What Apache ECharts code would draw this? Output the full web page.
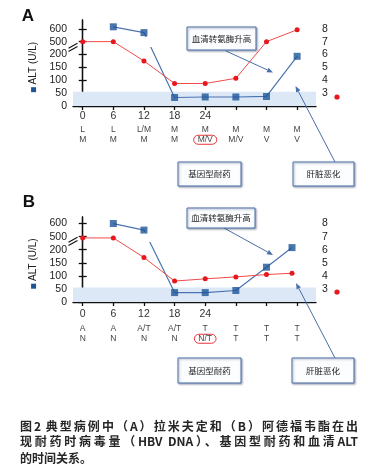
<!DOCTYPE html>
<html><head><meta charset="utf-8">
<script src="https://cdn.jsdelivr.net/npm/echarts@6/dist/echarts.min.js"></script>
<style>
html,body{margin:0;padding:0;background:#fff;}
#wrap{position:relative;width:370px;height:472px;overflow:hidden;}
#chart{position:absolute;left:0;top:0;width:370px;height:472px;}
.cap{position:absolute;left:20px;width:338px;font-family:"Noto Sans CJK SC",sans-serif;font-size:12px;font-weight:bold;color:#262626;line-height:16px;white-space:nowrap;}
.j{text-align:justify;text-align-last:justify;}
</style></head>
<body><div id="wrap"><div id="chart"></div>
<div class="cap j" style="top:418px">图2 典型病例中（A）拉米夫定和（B）阿德福韦酯在出</div>
<div class="cap j" style="top:433px">现耐药时病毒量（HBV DNA）、基因型耐药和血清ALT</div>
<div class="cap" style="top:450px">的时间关系。</div>
</div>
<script>
// ---- data ----
const times = [0, 6, 12, 18, 24, 30, 36, 42];
const timeLabels = [0, 6, 12, 18, 24];
const altTicks = [0, 50, 100, 150, 200, 500, 600];
const dnaTicks = [3, 4, 5, 6, 7, 8];
const drugA = ['L', 'L', 'L/M', 'M', 'M', 'M', 'M', 'M'];
const mutA = ['M', 'M', 'M', 'M', 'M/V', 'M/V', 'V', 'V'];
const drugB = ['A', 'A', 'A/T', 'A/T', 'T', 'T', 'T', 'T'];
const mutB = ['N', 'N', 'N', 'N', 'N/T', 'T', 'T', 'T'];
const circledIndex = 4;
const altTimesA = [6, 12, 18, 24, 30, 36, 42];
const altA = [615, 570, 33, 35, 35, 37, 193];
const dnaTimesA = [0, 6, 12, 18, 24, 30, 36, 42];
const dnaA = [7.0, 7.0, 5.5, 3.75, 3.75, 4.15, 7.0, 7.92];
const altTimesB = [6, 12, 18, 24, 30, 36, 41];
const altB = [600, 550, 36, 36, 44, 133, 208];
const dnaTimesB = [0, 6, 12, 18, 24, 30, 36, 41];
const dnaB = [6.9, 6.9, 5.4, 3.6, 3.77, 3.92, 4.1, 4.2];
const normalALT = 55;

// broken ALT scale: linear up to the break, compressed above it
function altScale(v) { return v <= 250 ? v : 250 + (v - 500) * 0.5; }
const altTickPos = altTicks.map(altScale);
function fmtAlt(v) { const i = altTickPos.indexOf(v); return i >= 0 ? String(altTicks[i]) : ''; }

const FONT = 'Liberation Sans';
const BLUE = '#1d5597', BLUE_LINE = '#4a73b3', RED = '#e8161d', RED_LINE = '#f04a4a';
const XMIN = -1.9, XMAX = 45.7;
const TMAX_A = 334, TMAX_B = 325;

function zip(xs, ys, f) { return xs.map((x, i) => [x, f ? f(ys[i]) : ys[i]]); }

function mainX(grid, margin) {
  return {
    type: 'value', gridIndex: grid, min: XMIN, max: XMAX, position: 'bottom',
    axisLine: { show: true, onZero: false, lineStyle: { color: '#111', width: 1.3 } },
    axisTick: { show: true, length: 4, customValues: times, lineStyle: { color: '#111', width: 1.3 } },
    axisLabel: { customValues: timeLabels, margin: margin, fontSize: 10.5, color: '#333', fontFamily: FONT },
    splitLine: { show: false }
  };
}
function rowX(grid, offset, drug, mut) {
  return {
    type: 'value', gridIndex: grid, min: XMIN, max: XMAX, position: 'bottom', offset: offset,
    axisLine: { show: false }, axisTick: { show: false }, splitLine: { show: false },
    axisLabel: {
      customValues: times, margin: 0, fontSize: 8.5, lineHeight: 10.5, color: '#444', fontFamily: FONT,
      formatter: function (v) {
        const i = times.indexOf(v);
        if (i < 0) return '';
        return drug[i] + '\n' + (i === circledIndex ? '{c|' + mut[i] + '}' : mut[i]);
      },
      rich: { c: { fontSize: 8.5, lineHeight: 10.5, color: '#444', fontFamily: FONT, borderColor: '#e8333a', borderWidth: 1, borderRadius: 6, padding: [0, 4, 0, 4] } }
    }
  };
}
function leftY(grid, tmax) {
  return {
    type: 'value', gridIndex: grid, min: 0, max: tmax, position: 'left',
    axisLine: { show: true, lineStyle: { color: '#111', width: 1.3 } },
    axisTick: { show: true, length: 4, customValues: altTickPos, lineStyle: { color: '#111', width: 1.3 } },
    axisLabel: { customValues: altTickPos, formatter: fmtAlt, margin: 6, fontSize: 10.5, color: '#222', fontFamily: FONT },
    splitLine: { show: false },
    name: '{sq|} ALT (U/L)', nameLocation: 'middle', nameGap: 25, nameRotate: 90,
    nameTextStyle: { fontSize: 10, color: '#222', fontFamily: FONT, padding: [0, 8, 0, 0],
      rich: { sq: { width: 5, height: 5, backgroundColor: BLUE } } }
  };
}
function rightY(grid, tmax) {
  return {
    type: 'value', gridIndex: grid, min: 2, max: 2 + tmax / 50, position: 'right',
    axisLine: { show: true, lineStyle: { color: '#111', width: 1.3 } },
    axisTick: { show: true, length: 4, customValues: dnaTicks, lineStyle: { color: '#111', width: 1.3 } },
    axisLabel: { customValues: dnaTicks, margin: 6, fontSize: 10.5, color: '#222', fontFamily: FONT },
    splitLine: { show: false }
  };
}
function panelSeries(xi, yl, yr, altT, alt, dnaT, dna) {
  return [
    { type: 'line', xAxisIndex: xi, yAxisIndex: yl, data: zip(altT, alt, altScale), showSymbol: false,
      lineStyle: { width: 1.2 }, silent: true, z: 3,
      markArea: { silent: true, itemStyle: { color: '#dce8f6' }, data: [[{ yAxis: 0 }, { yAxis: normalALT }]] } },
    { type: 'scatter', xAxisIndex: xi, yAxisIndex: yl, data: zip(altT, alt, altScale), symbol: 'rect', symbolSize: 7,
      itemStyle: { color: BLUE }, silent: true, z: 5 },
    { type: 'line', xAxisIndex: xi, yAxisIndex: yr, data: zip(dnaT, dna), symbol: 'circle', symbolSize: 5, showSymbol: true,
      lineStyle: { color: RED_LINE, width: 1 }, itemStyle: { color: RED, borderWidth: 0 }, silent: true, z: 4 }
  ];
}

const gapPieces = [
  { max: 229, color: BLUE_LINE },
  { min: 229, max: 268, color: 'rgba(255,255,255,0)' },
  { min: 268, color: BLUE_LINE }
];

const chart = echarts.init(document.getElementById('chart'), null, { renderer: 'canvas' });
const option = {
  animation: false,
  backgroundColor: 'transparent',
  grid: [
    { left: 73, top: 20, width: 243, height: 86 },
    { left: 73, top: 217, width: 243, height: 85 }
  ],
  xAxis: [mainX(0, 5), rowX(0, 18, drugA, mutA), mainX(1, 7), rowX(1, 21, drugB, mutB)],
  yAxis: [leftY(0, TMAX_A), rightY(0, TMAX_A), leftY(1, TMAX_B), rightY(1, TMAX_B)],
  visualMap: [
    { type: 'piecewise', show: false, seriesIndex: 0, dimension: 1, pieces: gapPieces },
    { type: 'piecewise', show: false, seriesIndex: 3, dimension: 1, pieces: gapPieces }
  ],
  series: [].concat(
    panelSeries(0, 0, 1, altTimesA, altA, dnaTimesA, dnaA),
    panelSeries(2, 2, 3, altTimesB, altB, dnaTimesB, dnaB)
  )
};
chart.setOption(option);

// ---- annotations ----
const ARROW = '#4a6ea8';
function box(x, y, w, h, text) {
  return [
    { type: 'rect', shape: { x: x, y: y, width: w, height: h }, z: 20,
      style: { fill: '#fbfdff', stroke: '#4f70a6', lineWidth: 1, shadowBlur: 2, shadowOffsetX: 1, shadowOffsetY: 1, shadowColor: 'rgba(40,60,100,0.45)' } },
    { type: 'text', x: x + w / 2, y: y + h / 2, z: 21,
      style: { text: text, fill: '#222', font: '8.5px "Noto Sans CJK SC"', align: 'center', verticalAlign: 'middle' } }
  ];
}
function arrow(x1, y1, x2, y2) {
  const a = Math.atan2(y2 - y1, x2 - x1), L = 6, W = 2.4;
  const bx = x2 - L * Math.cos(a), by = y2 - L * Math.sin(a);
  const px = -Math.sin(a) * W, py = Math.cos(a) * W;
  return [
    { type: 'line', z: 19, shape: { x1: x1, y1: y1, x2: bx, y2: by }, style: { stroke: ARROW, lineWidth: 1 } },
    { type: 'polygon', z: 19, shape: { points: [[x2, y2], [bx + px, by + py], [bx - px, by - py]] }, style: { fill: ARROW } }
  ];
}
function breakMark(p) {
  const x = p[0], y = p[1];
  return [
    { type: 'polygon', z: 30, shape: { points: [[x - 4, y + 1.8], [x + 4, y - 2.6], [x + 4, y + 0.6], [x - 4, y + 5]] }, style: { fill: '#fff' } },
    { type: 'line', z: 31, shape: { x1: x - 4.5, y1: y + 2, x2: x + 4.5, y2: y - 3 }, style: { stroke: '#111', lineWidth: 1.1 } },
    { type: 'line', z: 31, shape: { x1: x - 4.5, y1: y + 5.2, x2: x + 4.5, y2: y + 0.2 }, style: { stroke: '#111', lineWidth: 1.1 } }
  ];
}
const brA = chart.convertToPixel({ xAxisIndex: 0, yAxisIndex: 0 }, [XMIN, 232]);
const brB = chart.convertToPixel({ xAxisIndex: 2, yAxisIndex: 2 }, [XMIN, 236]);

const graphics = [].concat(
  [{ type: 'text', x: 28, y: 16, style: { text: 'A', font: 'bold 17px "Liberation Sans"', fill: '#111', align: 'center', verticalAlign: 'middle' } },
   { type: 'text', x: 29, y: 202, style: { text: 'B', font: 'bold 17px "Liberation Sans"', fill: '#111', align: 'center', verticalAlign: 'middle' } },
   { type: 'circle', shape: { cx: 337, cy: 97, r: 2.6 }, style: { fill: RED } },
   { type: 'circle', shape: { cx: 337, cy: 292, r: 2.6 }, style: { fill: RED } }],
  breakMark(brA), breakMark(brB),
  arrow(226, 51, 273, 72.5), arrow(335, 162, 295.5, 86),
  arrow(224, 228, 273, 255), arrow(335, 358, 296, 283),
  box(187, 27, 69, 23, '血清转氨酶升高'),
  box(178, 162, 63, 24, '基因型耐药'),
  box(293, 162, 61, 24, '肝脏恶化'),
  box(187, 208, 68, 20, '血清转氨酶升高'),
  box(178, 358, 63, 25, '基因型耐药'),
  box(292, 358, 62, 25, '肝脏恶化')
);
chart.setOption({ graphic: graphics });
</script>
</body></html>
